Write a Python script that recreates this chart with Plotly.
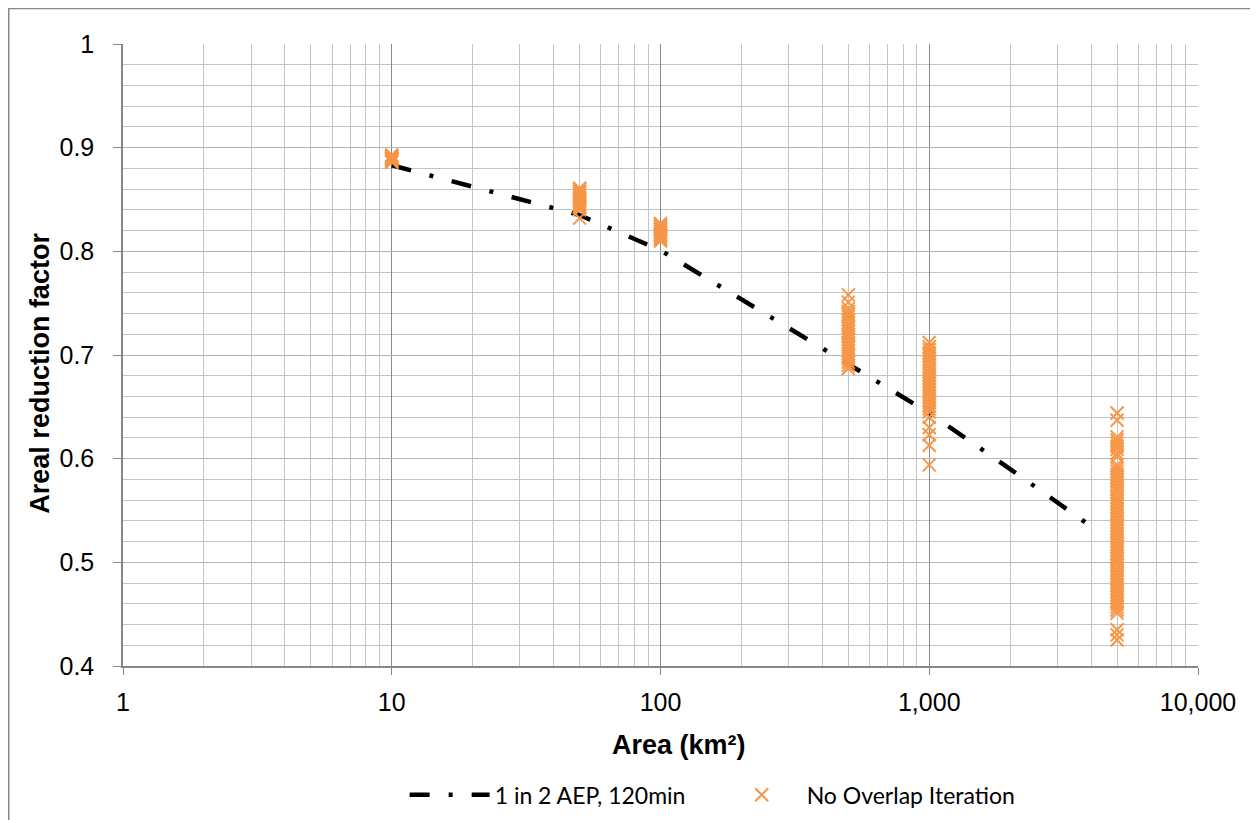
import plotly.graph_objects as go

# ---- data ----
line_area = [10, 20, 50, 100, 200, 500, 1000, 2000, 4300]
line_arf = [0.883, 0.862, 0.835, 0.801, 0.754, 0.692, 0.644, 0.590, 0.529]

arf_10 = [0.886, 0.887, 0.888, 0.889, 0.889, 0.890, 0.890, 0.891, 0.892, 0.893]
arf_50 = [0.861, 0.860, 0.858, 0.857, 0.855, 0.854, 0.852, 0.851, 0.849, 0.848,
          0.846, 0.845, 0.843, 0.842, 0.840, 0.832]
arf_100 = [0.827, 0.825, 0.824, 0.822, 0.821, 0.819, 0.818, 0.816, 0.815, 0.813,
           0.812, 0.810]
arf_500 = [0.758, 0.751, 0.745, 0.742, 0.739, 0.737, 0.734, 0.731, 0.728, 0.726,
           0.723, 0.720, 0.718, 0.715, 0.712, 0.710, 0.707, 0.704, 0.701, 0.699,
           0.696, 0.693, 0.690, 0.687]
arf_1000 = [0.712, 0.708, 0.705, 0.702, 0.699, 0.696, 0.693, 0.690, 0.687, 0.684,
            0.681, 0.678, 0.675, 0.672, 0.669, 0.666, 0.663, 0.660, 0.657, 0.654,
            0.651, 0.648, 0.645, 0.640, 0.630, 0.623, 0.613, 0.594]
arf_5000 = [0.644, 0.637, 0.621, 0.618, 0.615, 0.612, 0.609, 0.605, 0.602,
            0.594, 0.591, 0.588, 0.585, 0.582, 0.579, 0.576, 0.573, 0.570, 0.567,
            0.563, 0.560, 0.557, 0.554, 0.551, 0.548, 0.545, 0.542, 0.539, 0.536,
            0.533, 0.530, 0.527, 0.524, 0.521, 0.518, 0.515, 0.512, 0.509, 0.506,
            0.503, 0.500, 0.497, 0.493, 0.490, 0.487, 0.484, 0.481, 0.478, 0.475,
            0.472, 0.469, 0.466, 0.463, 0.460, 0.457, 0.454, 0.451, 0.435, 0.430,
            0.425]

groups = [(10, arf_10), (50, arf_50), (100, arf_100), (500, arf_500),
          (1000, arf_1000), (5000, arf_5000)]
scatter_x = []
scatter_y = []
for a, vals in groups:
    scatter_x += [a] * len(vals)
    scatter_y += vals

x_tickvals = [1, 10, 100, 1000, 10000]
x_ticktext = ["1", "10", "100", "1,000", "10,000"]

ORANGE = "#F79646"
AXIS_FONT = "Liberation Sans, Arial, sans-serif"

fig = go.Figure()
fig.add_trace(go.Scatter(
    x=line_area, y=line_arf, mode="lines", name="1 in 2 AEP, 120min",
    line=dict(color="black", width=4.5, dash="20px,19px,4px,19px"),
))
fig.add_trace(go.Scatter(
    x=scatter_x, y=scatter_y, mode="markers", name="No Overlap Iteration",
    marker=dict(symbol="x-thin", size=13, color=ORANGE,
                line=dict(color=ORANGE, width=2)),
))

fig.update_layout(
    width=1250, height=812,
    margin=dict(l=115, r=60, t=36, b=154, autoexpand=False),
    paper_bgcolor="white", plot_bgcolor="white",
    font=dict(family=AXIS_FONT, size=24, color="black"),
    showlegend=True,
    legend=dict(orientation="h", x=0.262, xanchor="left", y=-0.207, yanchor="middle",
                font=dict(family="Lato, Open Sans, sans-serif", size=23),
                itemwidth=80, entrywidth=217, entrywidthmode="pixels"),
    shapes=[dict(type="rect", xref="paper", yref="paper",
                 x0=-0.1063, x1=1.0521, y0=-0.3, y1=1.0571,
                 line=dict(color="#868686", width=1.5), fillcolor="rgba(0,0,0,0)",
                 layer="below")],
    annotations=[
        dict(text="<b>Area (km²)</b>", xref="paper", yref="paper",
             x=0.517, y=-0.127, xanchor="center", yanchor="middle",
             showarrow=False, font=dict(family=AXIS_FONT, size=27)),
        dict(text="<b>Areal reduction factor</b>", xref="paper", yref="paper",
             x=-0.0772, y=0.47, xanchor="center", yanchor="middle", textangle=-90,
             showarrow=False, font=dict(family=AXIS_FONT, size=27)),
    ],
)

fig.update_xaxes(
    type="log", range=[0, 4], automargin=False,
    tickvals=x_tickvals, ticktext=x_ticktext,
    showline=True, linecolor="#868686", linewidth=1.5,
    ticks="outside", ticklen=7, tickcolor="#868686",
    ticklabelstandoff=6,
    showgrid=True, gridcolor="#8a8a8a", gridwidth=1.3,
    minor=dict(dtick="D1", showgrid=True, gridcolor="#c4c4c4", gridwidth=1.3,
               ticks=""),
    tickfont=dict(size=25),
    zeroline=False,
)
fig.update_yaxes(
    range=[0.4, 1.0], dtick=0.1, tick0=0.4, automargin=False,
    showline=True, linecolor="#868686", linewidth=1.5,
    ticks="outside", ticklen=8, tickcolor="#868686",
    ticklabelstandoff=14,
    showgrid=True, gridcolor="#b4b4b4", gridwidth=1.3,
    minor=dict(dtick=0.02, showgrid=True, gridcolor="#c4c4c4", gridwidth=1.3,
               ticks=""),
    tickfont=dict(size=25),
    zeroline=False,
)

fig.write_html("out.html")
